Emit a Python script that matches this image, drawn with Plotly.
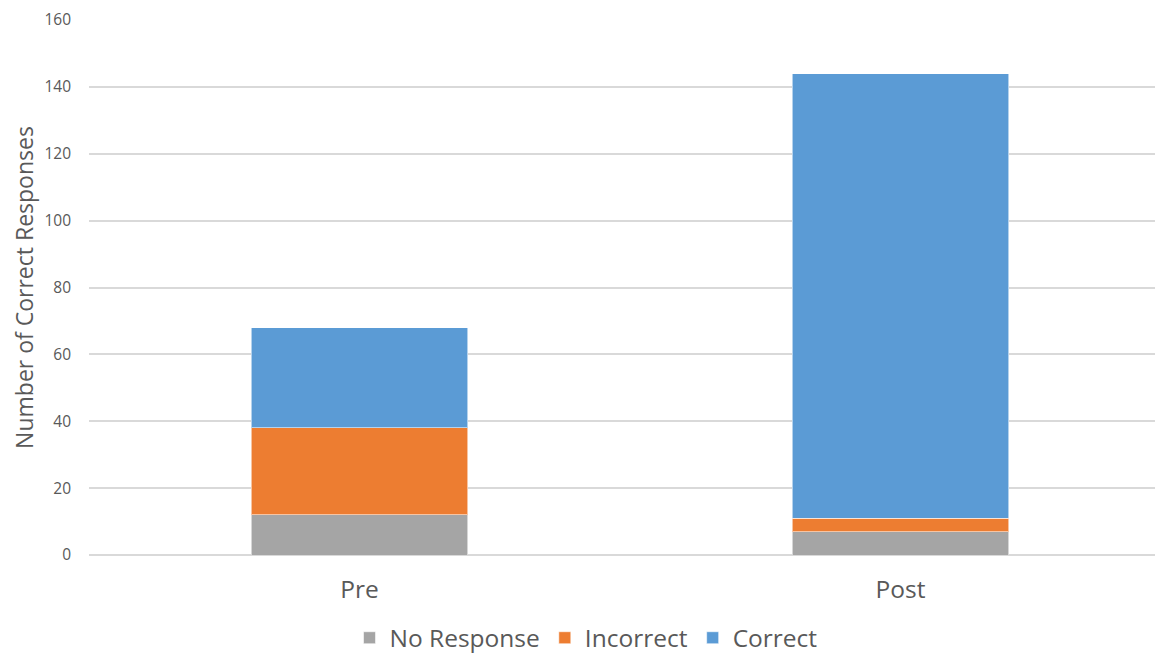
import plotly.graph_objects as go

categories = ["Pre", "Post"]
no_response = [12, 7]
incorrect = [26, 4]
correct = [30, 133]

series_names = ["No Response", "Incorrect", "Correct"]
series_colors = ["#A5A5A5", "#ED7D31", "#5B9BD5"]
y_ticks = [0, 20, 40, 60, 80, 100, 120, 140, 160]

fig = go.Figure()
for name, vals, col in zip(series_names, [no_response, incorrect, correct], series_colors):
    fig.add_trace(go.Bar(
        x=categories, y=vals, name=name,
        marker=dict(color=col, line=dict(color="rgba(255,255,255,0.55)", width=1)),
    ))

font_family = "'Open Sans', sans-serif"
fig.update_layout(
    barmode="stack",
    bargap=0.6,
    width=1163, height=654,
    margin=dict(l=81, r=0, t=12, b=107, autoexpand=False),
    paper_bgcolor="white", plot_bgcolor="white",
    font=dict(family=font_family, color="#595959"),
    showlegend=True,
    legend=dict(
        orientation="h", x=0.497, xanchor="center", xref="container",
        y=0.037, yanchor="middle", yref="container",
        font=dict(size=24.5, color="#595959", family=font_family),
        traceorder="normal",
    ),
    xaxis=dict(
        range=[-0.5, 1.5], automargin=False,
        showgrid=False, showline=False, zeroline=False,
        tickfont=dict(size=24.5, color="#595959"),
        ticks="", ticklabelstandoff=17,
    ),
    yaxis=dict(
        range=[0, 160], tickvals=y_ticks, automargin=False,
        showgrid=True, gridcolor="#D9D9D9", gridwidth=1.5,
        zeroline=True, zerolinecolor="#D9D9D9", zerolinewidth=1.5,
        showline=False,
        tickfont=dict(size=15.5, color="#595959"),
        ticks="", ticklabelstandoff=17,
        title=dict(text="Number of Correct Responses", font=dict(size=23, color="#595959"), standoff=13),
    ),
)

fig.write_html("out.html")
